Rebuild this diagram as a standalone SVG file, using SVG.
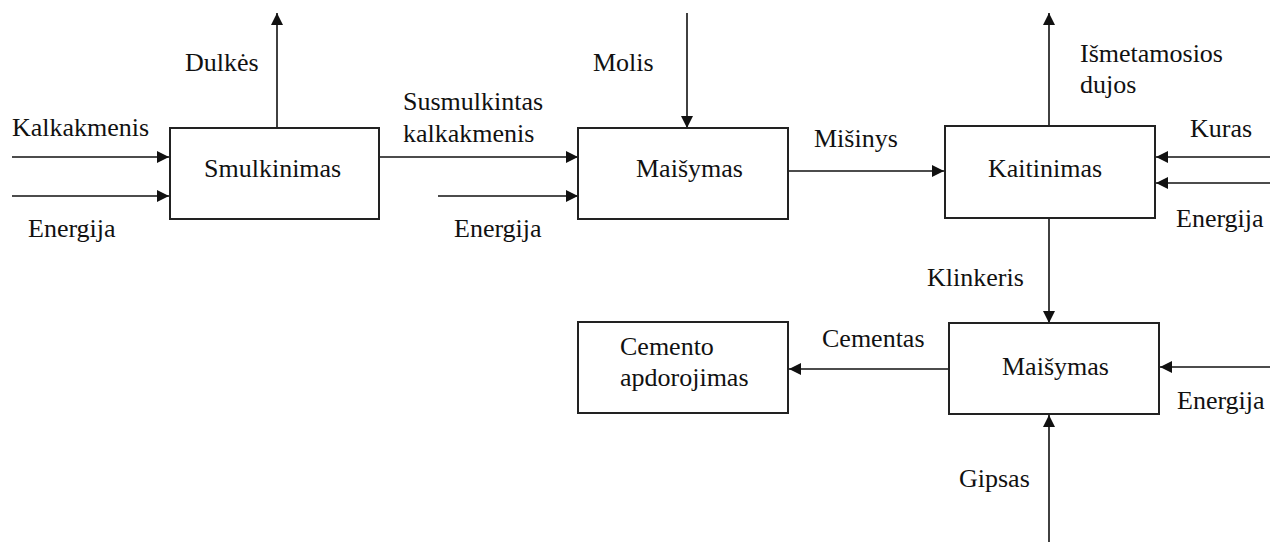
<svg xmlns="http://www.w3.org/2000/svg" width="1270" height="542" viewBox="0 0 1270 542">
<style>
.box{fill:#fff;stroke:#222;stroke-width:2}
.ln{stroke:#111;stroke-width:1.6;fill:none}
.t{font-family:"Liberation Serif","Times New Roman",serif;font-size:26px;fill:#111}
</style>
<defs>
<marker id="ah" viewBox="0 0 12 12" refX="12" refY="6" markerWidth="12" markerHeight="12" markerUnits="userSpaceOnUse" orient="auto">
<path d="M0,0 L12,6 L0,12 Z" fill="#111"/>
</marker>
</defs>
<rect width="1270" height="542" fill="#fff"/>
<g id="connectors">
<line class="ln" x1="12" y1="157" x2="169" y2="157" marker-end="url(#ah)"/>
<line class="ln" x1="12" y1="196" x2="169" y2="196" marker-end="url(#ah)"/>
<line class="ln" x1="277" y1="128" x2="277" y2="13" marker-end="url(#ah)"/>
<line class="ln" x1="379" y1="157" x2="578" y2="157" marker-end="url(#ah)"/>
<line class="ln" x1="438" y1="196" x2="578" y2="196" marker-end="url(#ah)"/>
<line class="ln" x1="687" y1="13" x2="687" y2="128" marker-end="url(#ah)"/>
<line class="ln" x1="788" y1="171" x2="944" y2="171" marker-end="url(#ah)"/>
<line class="ln" x1="1049" y1="126" x2="1049" y2="13" marker-end="url(#ah)"/>
<line class="ln" x1="1270" y1="157" x2="1156" y2="157" marker-end="url(#ah)"/>
<line class="ln" x1="1270" y1="183" x2="1156" y2="183" marker-end="url(#ah)"/>
<line class="ln" x1="1049" y1="218" x2="1049" y2="323" marker-end="url(#ah)"/>
<line class="ln" x1="949" y1="369" x2="789" y2="369" marker-end="url(#ah)"/>
<line class="ln" x1="1270" y1="367" x2="1160" y2="367" marker-end="url(#ah)"/>
<line class="ln" x1="1049" y1="542" x2="1049" y2="415" marker-end="url(#ah)"/>
<text class="t" x="185" y="71">Dulkės</text>
<text class="t" x="12" y="136">Kalkakmenis</text>
<text class="t" x="28" y="237">Energija</text>
<text class="t" x="403" y="110">Susmulkintas</text>
<text class="t" x="403" y="142">kalkakmenis</text>
<text class="t" x="593" y="71">Molis</text>
<text class="t" x="454" y="237">Energija</text>
<text class="t" x="814" y="147">Mišinys</text>
<text class="t" x="1080" y="62">Išmetamosios</text>
<text class="t" x="1080" y="93">dujos</text>
<text class="t" x="1190" y="137">Kuras</text>
<text class="t" x="1176" y="227">Energija</text>
<text class="t" x="927" y="286">Klinkeris</text>
<text class="t" x="822" y="347">Cementas</text>
<text class="t" x="1177" y="409">Energija</text>
<text class="t" x="959" y="487">Gipsas</text>
</g>
<g id="smulkinimas">
<rect class="box" x="170" y="128" width="209" height="91"/>
<text class="t" x="204" y="177">Smulkinimas</text>
</g>
<g id="maisymas1">
<rect class="box" x="578" y="128" width="210" height="91"/>
<text class="t" x="636" y="177">Maišymas</text>
</g>
<g id="kaitinimas">
<rect class="box" x="945" y="126" width="210" height="92"/>
<text class="t" x="988" y="177">Kaitinimas</text>
</g>
<g id="maisymas2">
<rect class="box" x="949" y="323" width="210" height="91"/>
<text class="t" x="1002" y="375">Maišymas</text>
</g>
<g id="cemento">
<rect class="box" x="578" y="322" width="210" height="91"/>
<text class="t" x="620" y="355">Cemento</text>
<text class="t" x="620" y="386">apdorojimas</text>
</g>
</svg>
